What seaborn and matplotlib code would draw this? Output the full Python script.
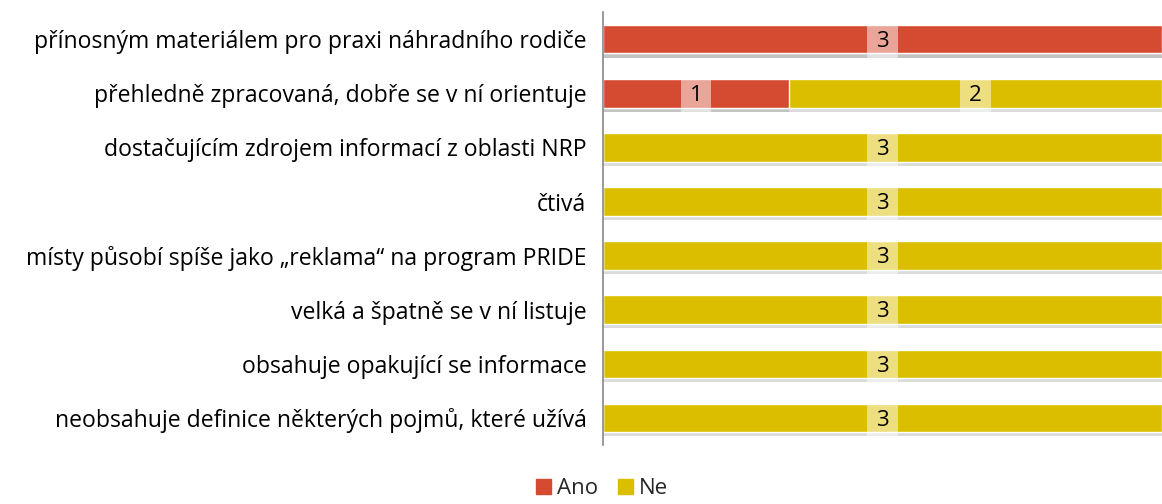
import pandas as pd
import matplotlib.pyplot as plt
import matplotlib.patheffects as pe
import seaborn as sns
from matplotlib.patches import Patch

statements = [
    "přínosným materiálem pro praxi náhradního rodiče",
    "přehledně zpracovaná, dobře se v ní orientuje",
    "dostačujícím zdrojem informací z oblasti NRP",
    "čtivá",
    "místy působí spíše jako „reklama“ na program PRIDE",
    "velká a špatně se v ní listuje",
    "obsahuje opakující se informace",
    "neobsahuje definice některých pojmů, které užívá",
]
ano = [3, 1, 0, 0, 0, 0, 0, 0]
ne = [0, 2, 3, 3, 3, 3, 3, 3]

RED = "#D44B32"
YELLOW = "#DCBE00"

df = pd.DataFrame({"statement": statements, "Ano": ano, "Ne": ne})
df["total"] = df["Ano"] + df["Ne"]

sns.set_theme(style="white")
plt.rcParams["font.family"] = ["Open Sans", "DejaVu Sans"]

fig = plt.figure(figsize=(11.62, 5.04), dpi=100)
ax = fig.add_axes([0.519, 0.117, 0.481, 0.859])

# stacked: full length in yellow, red part drawn over it
sns.barplot(data=df, y="statement", x="total", color=YELLOW, width=0.53,
            saturation=1, ax=ax, orient="h")
sns.barplot(data=df, y="statement", x="Ano", color=RED, width=0.53,
            saturation=1, ax=ax, orient="h")

shadow = [pe.SimplePatchShadow(offset=(0, -3), shadow_rgbFace="#999999", alpha=0.35),
          pe.Normal()]
for p in ax.patches:
    p.set_path_effects(shadow)

for i, row in df.iterrows():
    for start, val in [(0, row["Ano"]), (row["Ano"], row["Ne"])]:
        if val > 0:
            ax.text(start + val / 2, i + 0.04, str(val), ha="center", va="center",
                    fontsize=16, color="black",
                    bbox=dict(boxstyle="square,pad=0.4", fc="white",
                              ec="none", alpha=0.5))

ax.set_xlim(0, 3)
ax.set_ylim(len(df) - 0.5, -0.5)
ax.set_xlabel("")
ax.set_ylabel("")
ax.set_xticks([])
ax.tick_params(axis="y", length=0, pad=12, labelsize=16.6, labelcolor="black")
for s in ["top", "right", "bottom"]:
    ax.spines[s].set_visible(False)
ax.spines["left"].set_color("#888888")
ax.spines["left"].set_linewidth(1.2)

handles = [Patch(color=RED, label="Ano"), Patch(color=YELLOW, label="Ne")]
fig.legend(handles=handles, loc="lower center", bbox_to_anchor=(0.518, -0.03),
           ncol=2, frameon=False, fontsize=16, handlelength=0.7,
           handleheight=0.7, handletextpad=0.25, columnspacing=0.9)

fig.savefig("out.png", dpi=100)
